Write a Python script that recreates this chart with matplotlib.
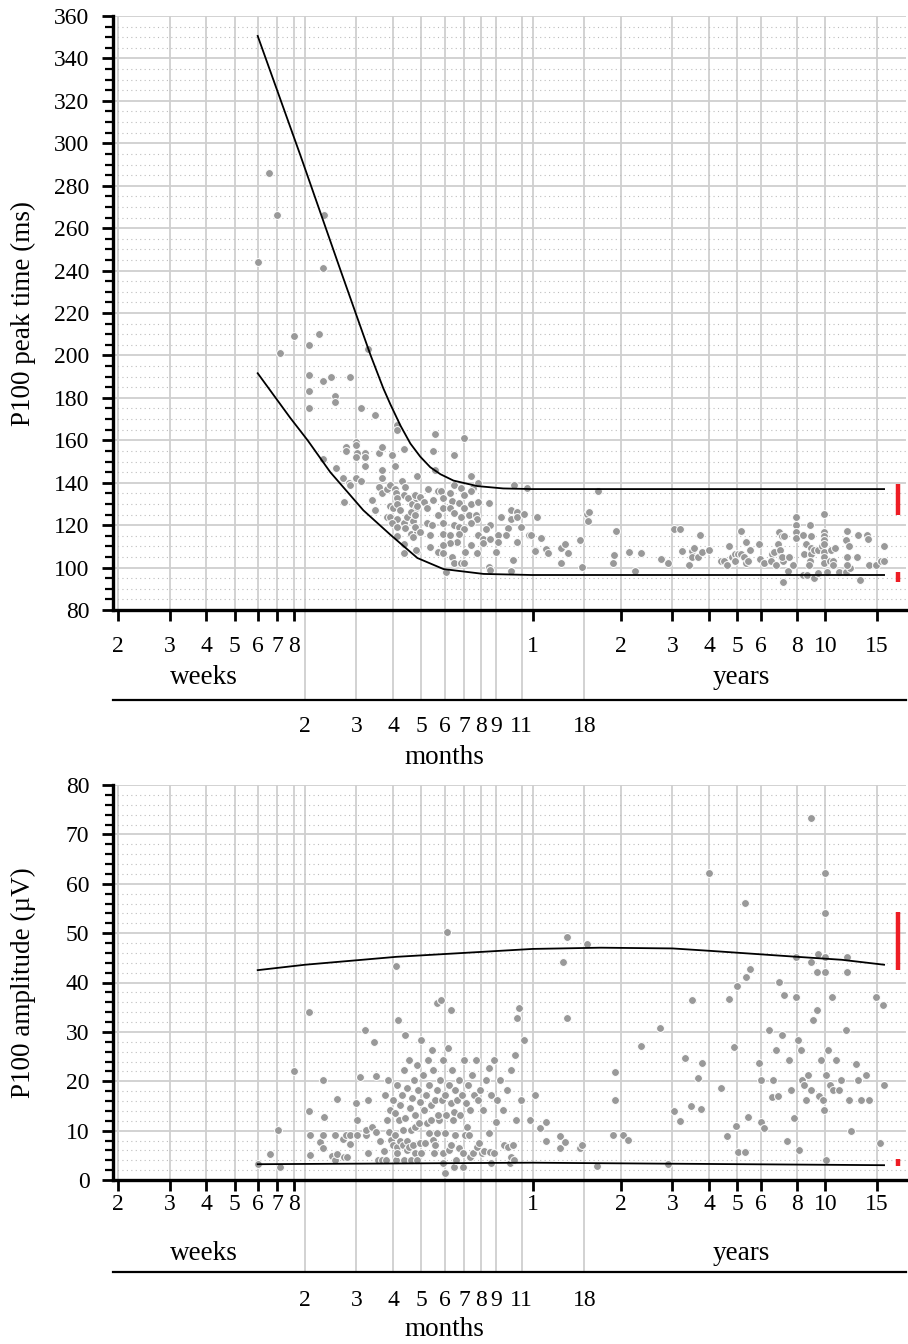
import matplotlib
matplotlib.use("Agg")
import matplotlib.pyplot as plt
from matplotlib.ticker import FixedLocator, MultipleLocator, NullFormatter
from matplotlib.lines import Line2D
import matplotlib.transforms as mtransforms

plt.rcParams['font.family'] = ['Liberation Serif', 'DejaVu Serif']

# ---- age axis ticks -------------------------------------------------------
DAYS_PER_WEEK = 7.0
DAYS_PER_MONTH = 30.4375
DAYS_PER_YEAR = 365.25

week_ticks = [2, 3, 4, 5, 6, 7, 8]
month_ticks = [2, 3, 4, 5, 6, 7, 8, 9, 11, 18]
year_ticks = [1, 2, 3, 4, 5, 6, 8, 10, 15]

# ---- P100 peak time: age (days), latency (ms) ----------------------------
pt_age = [46, 49, 71, 42, 70, 56, 68, 63, 50, 100, 63, 70, 75, 87, 63, 77, 77, 63, 95, 106,
          126, 126, 133, 91, 91, 84, 84, 92, 98, 98, 91, 109, 112, 121, 124, 98, 70, 78, 82, 86,
          87, 91, 95, 83, 103, 106, 112, 112, 109, 112, 116, 119, 124, 125, 131, 134, 133, 126, 119, 122,
          126, 129, 116, 119, 126, 121, 126, 133, 136, 137, 141, 146, 146, 140, 143, 134, 140, 147, 126, 143,
          133, 133, 147,
          170, 212, 167, 196, 170, 147, 224, 238, 315, 349, 196, 207, 228, 160, 173, 177, 191, 212,
          224, 145, 151, 155, 167, 181, 194, 205, 224, 238, 258, 147, 159, 181, 191, 212, 145, 173,
          196, 207, 221, 233, 236, 284, 307, 322, 307, 322, 340, 377, 332, 300, 262, 252, 159, 165,
          145, 181, 196, 204, 212, 224, 151, 163, 180, 191, 204, 238, 248, 262, 279, 295, 354, 322,
          279, 248, 224, 201, 191, 180, 163, 173, 181, 146, 215, 236, 273, 371, 193, 314, 196, 207,
          212, 258, 262, 307, 184,
          610, 560, 568, 563, 359, 389, 371, 405, 411, 455, 470, 481, 455, 529, 537, 702, 691, 686,
          781, 819, 855, 1001, 1058, 1108, 1161, 1178, 1250, 1278, 1283, 1298, 1340, 1362, 1383, 1459, 1607,
          1713, 1647, 1686, 1753, 1795, 1838, 1882, 1795, 1882, 1927, 1958, 2021, 1958, 1989, 2170, 2187,
          2256, 2403, 2384, 2441, 2480, 2519, 2529, 2599, 2641, 2560, 2579, 2620, 2599, 2747, 2725, 2835,
          2620, 2903, 2903, 2903, 2903, 3060, 3091, 3140, 3240, 3267, 3267, 3267, 3240, 3215, 3070, 3170,
          3345, 3451, 3345, 3451, 3562, 3618, 3618, 3618, 3618, 3618, 3618, 3618, 3618, 3705, 3793, 3860,
          3825, 3948, 3860, 4078, 4307, 4445, 4341, 4307, 4380, 4341, 4341, 4720, 4696, 4808, 5050, 5090,
          5130, 5455, 5648, 5782, 5800]
pt_ms = [286, 266, 266, 244, 241, 209, 210, 205, 201, 203, 191, 188, 190, 190, 183, 181, 178, 175, 175, 172,
         167, 165, 156, 159, 158, 157, 155, 154, 154, 152, 152, 154, 157, 153, 148, 148, 151, 147, 142, 140,
         139, 142, 141, 131, 132, 127, 146, 142, 138, 135, 137, 139, 137, 135, 141, 138, 134, 133, 129, 128,
         130, 127, 124, 124, 123, 121, 119, 121, 124, 133, 130, 133, 128, 126, 122, 118.5, 116, 117, 115, 114.5,
         111, 107, 108,
         163, 161, 155, 153, 146, 143, 143, 140, 139, 137.4, 139, 137.4, 137.4, 137, 136, 136, 135, 134,
         136, 134, 133.4, 131, 132, 132.7, 131.5, 130.3, 130, 131, 130.3, 129, 128, 128, 128, 128, 125, 125,
         125.6, 124, 125, 125, 123, 124, 127, 126.3, 123, 124, 125.4, 124, 119.3, 118.5, 120, 118, 121, 120,
         119.3, 121, 120, 119.3, 118, 121, 117, 115.3, 116, 115.3, 115.8, 115.5, 113.7, 113.7, 115.5, 115.3, 115.5, 112.2,
         112.2, 111.4, 110.6, 112.2, 111.4, 110.6, 109.8, 107.5, 106.7, 108.3, 107.5, 106.7, 107.5, 108.3, 105.2, 103.6, 102.3, 102.1,
         102.3, 100.5, 98.9, 98.6, 98.1,
         136, 125.4, 126.2, 122, 115.5, 114, 108, 108.7, 107, 109.4, 111, 107, 102.2, 113, 100.2, 117.2, 106, 102,
         107.3, 98.6, 107, 104, 102.2, 118.2, 118.2, 108, 101.2, 108, 105.2, 109, 105.2, 115.5, 107.3, 108.1, 103.1,
         110.2, 103.1, 101.1, 105.2, 106.3, 106.3, 106.3, 103.1, 117.2, 105.2, 112.2, 108.3, 102.1, 103.1, 111.1, 104,
         102.2, 106.3, 103.1, 107.3, 101.1, 111.1, 116.9, 115.1, 115.1, 108.3, 105.2, 103.1, 105.2, 105.2, 98.4, 101.1,
         93.2, 124, 119.9, 116.9, 114.1, 115.5, 106.3, 111.1, 120, 115.1, 109.1, 106.3, 103.1, 101.1, 96.3, 96.3,
         95.2, 97.3, 108.3, 108.3, 110.2, 125.1, 116.9, 115.1, 112.9, 111.1, 107.3, 105.2, 102.1, 97.9, 103.1, 103.1,
         108.3, 109.1, 101.1, 98.1, 98.1, 99.9, 117.2, 112.9, 110.2, 105.2, 101.2, 115.5, 105.2, 94.3, 115.5, 113.5,
         101.1, 101.1, 103.1, 110.2, 103.1]

# reference limits for peak time (age in days, ms)
pt_upper_age = [42, 58.7, 80.4, 101.8, 112.8, 119.2, 129, 139.5, 150.8, 163.2, 176.8, 195.9, 236.5,
                289.5, 362, 5790]
pt_upper_ms = [350.6, 294.5, 240.5, 200.5, 184.5, 177, 167, 158.5, 152.3, 147.3, 144, 141, 138.4,
               137.3, 137, 137]
pt_lower_age = [42, 54.3, 62.2, 74.3, 96.4, 119.2, 147.5, 181, 248.2, 362, 5790]
pt_lower_ms = [191.6, 170.5, 160, 145, 127, 115.5, 104.5, 99.3, 97.0, 96.5, 96.5]
pt_bar_upper = (124.8, 139.2)
pt_bar_lower = (93.0, 98.1)

# ---- P100 amplitude: age (days), amplitude (uV) ---------------------------
amp_age = [
    42, 46.3, 49.1, 50.1, 63.3, 63.3, 68.4, 70.1, 70.1, 75.5,
    77.3, 77.3, 78.5, 82.3, 83.0, 84.3, 85.0, 87.0, 87.0, 91.6,
    91.6, 98.3, 98.3, 100.2, 103.0, 106.3, 108.0, 110.2, 111.5, 113.3,
    115.1, 116.0, 118.3, 120.1, 121.6, 123.5, 124.5, 125.5, 126.0, 127.4,
    129.0, 131.6, 132.1, 133.1, 135.8, 136.3, 138.5, 140.1, 140.6, 142.3,
    145.1, 145.1, 147.4, 149.7, 150.9, 152.1, 157.0, 159.5, 162.0, 164.6,
    167.2, 169.8, 168.5, 172.6, 174.6, 180.2, 180.2, 183.1, 183.1, 188.9,
    192.0, 195.0, 197.4, 198.2, 199.7, 204.4, 210.9, 211.9, 214.3, 217.7,
    221.1, 222.9, 228.3, 235.5, 239.2, 246.0, 249.8, 259.9, 262.0, 264.1,
    270.4, 274.7, 292.5, 301.8, 306.6, 309.0, 313.9, 316.4, 321.5, 357.6,
    386.8, 405.6, 405.6, 452.9, 452.9, 471.0, 527.9, 536.3, 603.6, 684.6,
    55.9, 63.0, 63.0, 70.3, 70.9, 78.5, 91.2, 94.1, 97.9, 100.2,
    105.1, 106.7, 125.0, 126.9, 172.6, 178.1, 186.7, 192.7, 134.2,
    114.6, 117.4, 119.2, 122.0, 124.0, 126.0, 129.0, 131.0, 133.1, 134.2,
    136.3, 138.5, 139.5, 141.7, 144.0, 145.1, 147.4, 148.6, 150.9, 152.1,
    154.5, 155.7, 158.2, 160.7, 162.0, 164.6, 165.9, 167.2, 169.8, 172.6,
    174.0, 176.7, 179.5, 180.9, 183.8, 185.3, 188.2, 189.7, 192.7, 194.3,
    197.4, 198.9, 202.1, 205.2, 206.8, 210.1, 213.4, 216.8, 220.2, 223.8,
    227.4, 231.0, 234.7, 238.4, 242.1, 247.9, 253.9, 258.0, 264.1, 270.4,
    276.9, 283.4, 290.2, 299.5, 309.0, 318.9, 324.0, 329.2, 334.4, 342.4,
    373.3, 461.8, 476.6, 476.6, 557.9, 695.5, 695.5, 740.7, 770.4, 853.4,
    991.1, 1055.6, 1106.8, 1160.4, 1206.4, 1265, 1336.7, 1369, 1379.8, 1602,
    1679.5, 1774.4, 1802.7, 1831.3, 1935, 1981.3, 2160.9, 2195, 2195, 2247.5,
    2337.7, 2393.8, 2412.8, 2470.5, 2509.7, 2589.3, 2693.3, 2736, 2780, 2846.4,
    2937.6, 2960.7, 3007, 3030.8, 3078.9, 3127.9, 3177.5, 3254, 3305.7, 3411.5,
    3465.5, 3520, 3576, 3604, 3661.5, 3661.5, 3719.6, 3778.4, 3868.5, 3961,
    4055.5, 4120, 4285.6, 4387.8, 4458, 4637.2, 4710.8, 4823, 5016.9, 5136.5,
    5601, 5734.8, 5780,
    3254, 1458, 3633, 1935, 3633, 3438, 3633, 4337, 3254, 2892,
    3411, 3633, 4337, 2013, 1950, 1817, 2529, 2630, 2892, 3838,
    5428, 1706, 1275]
amp_uv = [
    3.2, 5.3, 10.1, 2.6, 9.1, 5.1, 7.6, 9.1, 6.5, 4.9,
    9.1, 4.0, 5.2, 8.4, 4.6, 9.1, 4.6, 7.2, 9.1, 9.1,
    12.2, 9.1, 10.1, 5.4, 10.8, 9.8, 4.1, 8.0, 4.1, 5.9,
    4.1, 12.2, 9.8, 8.1, 7.1, 9.1, 4.1, 6.7, 5.4, 12.2,
    7.8, 7.1, 10.1, 4.1, 8.0, 6.1, 6.7, 4.1, 10.1, 7.1,
    10.8, 5.4, 4.1, 11.5, 7.4, 5.4, 7.4, 11.5, 9.5, 12.2,
    8.1, 7.1, 5.4, 9.5, 12.2, 5.4, 3.4, 1.5, 9.5, 6.1,
    7.1, 12.2, 2.7, 9.1, 4.1, 6.4, 5.4, 2.7, 9.1, 10.8,
    9.1, 4.7, 5.4, 6.7, 7.4, 5.4, 5.9, 9.5, 5.7, 3.4,
    5.4, 11.8, 7.1, 6.7, 3.4, 4.6, 7.1, 4.1, 12.2, 12.2,
    10.5, 11.8, 7.8, 8.9, 6.4, 7.6, 6.4, 7.1, 2.8, 9.1,
    22.1, 34.0, 14.0, 20.3, 12.8, 16.4, 15.6, 20.9, 30.4, 16.2,
    28.0, 21.1, 43.3, 32.4, 35.8, 36.5, 50.2, 34.4, 29.4,
    17.2, 20.3, 14.2, 16.2, 13.5, 19.2, 15.2, 17.2, 22.3, 12.6,
    18.6, 24.3, 14.6, 16.6, 20.3, 13.2, 23.3, 18.2, 15.8, 28.4,
    21.3, 14.2, 17.2, 24.3, 19.2, 15.2, 26.3, 22.3, 16.2, 18.2,
    13.2, 20.3, 16.2, 24.3, 17.2, 13.2, 26.7, 19.2, 15.6, 22.3,
    13.8, 18.2, 16.2, 20.3, 13.2, 17.2, 24.3, 15.6, 19.2, 14.2,
    21.3, 17.2, 24.3, 16.2, 18.2, 14.2, 20.3, 22.7, 17.2, 24.3,
    16.2, 20.3, 14.2, 18.2, 22.3, 25.3, 32.8, 34.8, 16.2, 28.4,
    17.2, 44.2, 49.2, 32.8, 47.8, 21.9, 16.2, 9.1, 8.1, 27.1,
    30.8, 3.2, 14.0, 12.0, 24.7, 15.0, 20.7, 14.4, 23.7, 18.6,
    9.0, 27.0, 11.0, 5.7, 5.7, 12.8, 23.7, 20.3, 11.7, 10.5,
    30.4, 16.8, 20.3, 26.3, 17.0, 29.4, 8.0, 24.3, 18.2, 12.6,
    28.4, 6.0, 26.3, 20.3, 19.2, 16.2, 21.3, 18.2, 32.4, 34.4,
    17.0, 24.3, 16.2, 14.2, 4.1, 21.3, 26.3, 19.2, 18.2, 24.3,
    18.2, 20.3, 30.4, 16.2, 10.0, 23.5, 20.3, 16.2, 21.3, 16.2,
    7.5, 35.4, 19.2,
    73.3, 62.1, 62.1, 56.2, 54.1, 45.7, 45.2, 45.2, 44.2, 45.2,
    42.1, 42.1, 42.1, 42.7, 41.1, 39.2, 40.2, 37.5, 37.1, 37.1,
    37.1, 36.7, 36.5]

amp_upper_age = [42, 61, 125, 365, 624, 1096, 1483, 2922, 4154, 5790]
amp_upper_uv = [42.5, 43.6, 45.2, 46.8, 47.05, 46.9, 46.4, 45.2, 44.6, 43.6]
amp_lower_age = [42, 365, 624, 5790]
amp_lower_uv = [3.2, 3.5, 3.4, 3.0]
amp_bar_upper = (42.5, 54.2)
amp_bar_lower = (2.8, 4.2)

# ---- layout (pixels) ------------------------------------------------------
W, H = 908, 1344
fig = plt.figure(figsize=(W / 100, H / 100), dpi=100)


def rect(left, top, right, bottom):
    return [left / W, 1 - bottom / H, (right - left) / W, (bottom - top) / H]


def fy(ypix):
    return 1 - ypix / H


XMIN, XMAX = 13.46, 6880.0
BAR_X = 6476.0
GRID = '#cfcfcf'
TICK_FONT = 17
WORD_FONT = 19.5
DOT = '#999999'

week_days = [w * DAYS_PER_WEEK for w in week_ticks]
month_days = [m * DAYS_PER_MONTH for m in month_ticks]
year_days = [y * DAYS_PER_YEAR for y in year_ticks]


def setup_axis(ax, ylim, ymajor, yminor, bottom, rows, ylabel):
    ax.set_xscale('log')
    ax.set_xlim(XMIN, XMAX)
    ax.set_ylim(*ylim)
    ax.xaxis.set_major_locator(FixedLocator(week_days + year_days))
    ax.xaxis.set_minor_locator(FixedLocator(month_days))
    ax.xaxis.set_major_formatter(NullFormatter())
    ax.xaxis.set_minor_formatter(NullFormatter())
    ax.yaxis.set_major_locator(MultipleLocator(ymajor))
    ax.yaxis.set_minor_locator(MultipleLocator(yminor))
    for s in ('top', 'right'):
        ax.spines[s].set_visible(False)
    for s in ('left', 'bottom'):
        ax.spines[s].set_linewidth(2.4)
    ax.tick_params(axis='x', which='major', direction='out', length=8, width=2, color='black')
    ax.tick_params(axis='x', which='minor', length=0)
    ax.tick_params(axis='y', which='major', direction='out', length=8, width=2,
                   labelsize=TICK_FONT, pad=9)
    ax.tick_params(axis='y', which='minor', direction='out', length=6, width=1.6)
    ax.xaxis.grid(True, which='both', color=GRID, lw=1.3, ls='-')
    ax.yaxis.grid(True, which='major', color=GRID, lw=1.3, ls='-')
    ax.yaxis.grid(True, which='minor', color='#bdbdbd', lw=0.8, ls=(0, (1, 3)))
    ax.set_axisbelow(True)

    tr = mtransforms.blended_transform_factory(ax.transData, fig.transFigure)
    y_wk, y_name, y_sep, y_mo, y_moname = rows
    for w, d in zip(week_ticks, week_days):
        fig.text(d, fy(y_wk), str(w), transform=tr, ha='center', va='center', fontsize=TICK_FONT)
    for yv, d in zip(year_ticks, year_days):
        fig.text(d, fy(y_wk), str(yv), transform=tr, ha='center', va='center', fontsize=TICK_FONT)
    for m, d in zip(month_ticks, month_days):
        fig.text(d, fy(y_mo), str(m), transform=tr, ha='center', va='center', fontsize=TICK_FONT)
        fig.add_artist(Line2D([d, d], [fy(bottom), fy(y_sep)], transform=tr,
                              color=GRID, lw=1.3, zorder=0))
    fig.text(204 / W, fy(y_name), 'weeks', ha='center', va='center', fontsize=WORD_FONT)
    fig.text(741 / W, fy(y_name), 'years', ha='center', va='center', fontsize=WORD_FONT)
    fig.text(444 / W, fy(y_moname), 'months', ha='center', va='center', fontsize=WORD_FONT)
    fig.add_artist(Line2D([113 / W, 906 / W], [fy(y_sep), fy(y_sep)],
                          color='black', lw=1.6))
    ax.set_ylabel(ylabel, fontsize=WORD_FONT)
    lab_tr = mtransforms.blended_transform_factory(fig.transFigure, ax.transAxes)
    ax.yaxis.set_label_coords(36 / W, 0.5, transform=lab_tr)


ax1 = fig.add_axes(rect(113, 16, 906, 610))
setup_axis(ax1, (80, 360), 20, 5, 610, (647, 678, 700, 727, 757), 'P100 peak time (ms)')
ax1.scatter(pt_age, pt_ms, s=32, c=DOT, edgecolors='white', linewidths=0.7, zorder=3)
ax1.plot(pt_upper_age, pt_upper_ms, color='black', lw=1.3, zorder=4)
ax1.plot(pt_lower_age, pt_lower_ms, color='black', lw=1.3, zorder=4)
ax1.vlines([BAR_X, BAR_X], [pt_bar_upper[0], pt_bar_lower[0]], [pt_bar_upper[1], pt_bar_lower[1]],
           color='#ee1c24', lw=3.2, zorder=4)

ax2 = fig.add_axes(rect(113, 785, 906, 1180))
setup_axis(ax2, (0, 80), 10, 2, 1180, (1205, 1253, 1272, 1300, 1330), 'P100 amplitude (\u00b5V)')
ax2.scatter(amp_age, amp_uv, s=32, c=DOT, edgecolors='white', linewidths=0.7, zorder=3)
ax2.plot(amp_upper_age, amp_upper_uv, color='black', lw=1.3, zorder=4)
ax2.plot(amp_lower_age, amp_lower_uv, color='black', lw=1.3, zorder=4)
ax2.vlines([BAR_X, BAR_X], [amp_bar_upper[0], amp_bar_lower[0]], [amp_bar_upper[1], amp_bar_lower[1]],
           color='#ee1c24', lw=3.2, zorder=4)

fig.savefig('out.png', dpi=100)
